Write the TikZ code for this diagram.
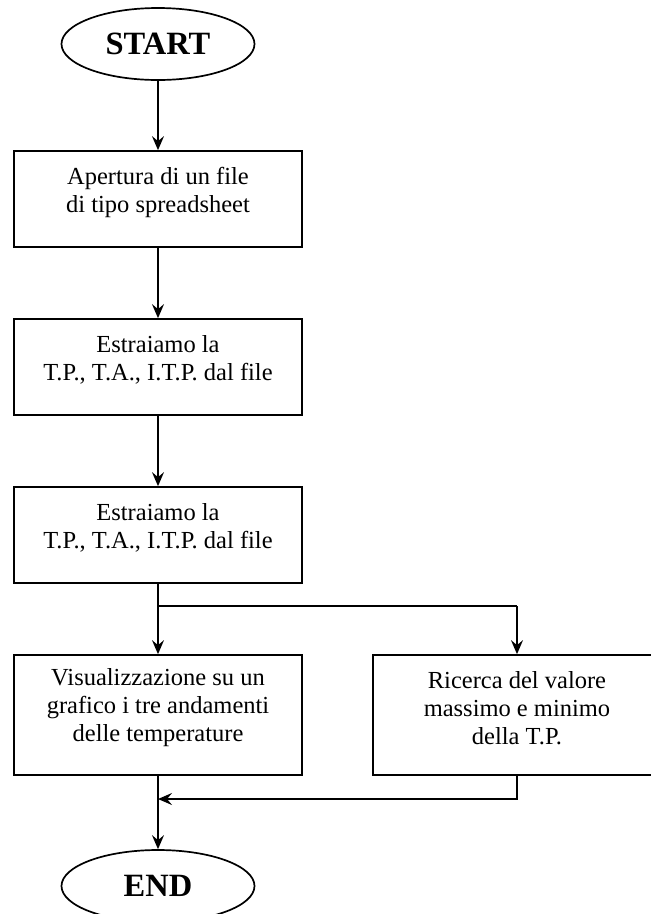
\documentclass[tikz,border=0pt]{standalone}
\usepackage{fontspec}
\setmainfont{Liberation Serif}
\usetikzlibrary{arrows.meta,shapes.geometric}
\begin{document}
\begin{tikzpicture}[x=1pt,y=-1pt,
  line width=1.7pt,
  box/.style={draw,rectangle,minimum width=288pt,inner sep=0pt},
  term/.style={draw,ellipse,minimum width=193pt,minimum height=72pt,inner sep=0pt,font=\fontsize{32.5}{38}\selectfont\bfseries},
  txt/.style={align=center,font=\fontsize{24.5}{28}\selectfont,inner sep=0pt},
  arr/.style={-{Stealth[length=14pt,width=12pt,inset=5pt]}}]
\useasboundingbox (0,0) rectangle (651,914);
\node[term] (start) at (158,44) {START};
\node[box,minimum height=96pt] (b1) at (158,199) {};
\node[txt] (t1) at (158,192) {Apertura di un file\\di tipo spreadsheet};
\node[box,minimum height=96pt] (b2) at (158,367) {};
\node[txt] (t2) at (158,360) {Estraiamo la\\T.P., T.A., I.T.P. dal file};
\node[box,minimum height=96pt] (b3) at (158,535) {};
\node[txt] (t3) at (158,528) {Estraiamo la\\T.P., T.A., I.T.P. dal file};
\node[box,minimum height=120pt] (b4) at (158,715) {};
\node[txt] (t4) at (158,708) {Visualizzazione su un\\grafico i tre andamenti\\delle temperature};
\node[box,minimum height=120pt] (b5) at (517,715) {};
\node[txt] (t5) at (517,708) {Ricerca del valore\\massimo e minimo\\della T.P.};
\node[term] (end) at (158,886) {END};
\coordinate (split) at (158,606);
\coordinate (splitR) at (517,606);
\coordinate (joinR) at (517,799);
\coordinate (join) at (158,799);
\draw[arr] (start) -- (b1);
\draw[arr] (b1) -- (b2);
\draw[arr] (b2) -- (b3);
\draw[arr] (b3) -- (b4);
\draw (split) -- (splitR);
\draw[arr] (splitR) -- (b5);
\draw[arr] (b5.south) -- (joinR) -- (join);
\draw[arr] (b4) -- (end);
\end{tikzpicture}
\end{document}
